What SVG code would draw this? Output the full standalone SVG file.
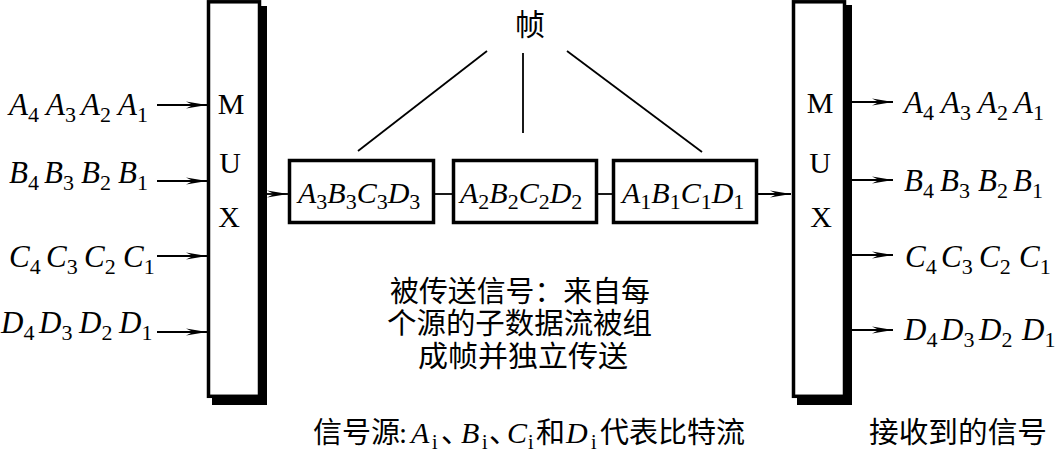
<svg xmlns="http://www.w3.org/2000/svg" width="1055" height="452" viewBox="0 0 1055 452">
<defs>
<style>
.it{font-family:"Liberation Serif","Times New Roman",serif;font-style:italic;fill:#000}
.lb{font-size:31px}
.bt{font-size:30px}
.s{font-size:22px;font-style:normal}
.rm{font-family:"Liberation Serif","Times New Roman",serif;font-size:30px;fill:#000}
.cj{font-family:"Noto Sans CJK SC",sans-serif;font-size:29px;fill:#000}
.cap{font-family:"Liberation Serif","Noto Sans CJK SC",serif;font-size:29px;fill:#000}
.ci{font-style:italic;font-size:30px}
.cs{font-size:20px;font-style:normal}
.box{fill:#fff;stroke:#000;stroke-width:3.5}
.shadow{fill:#000}
.ln{stroke:#000;stroke-width:1.8;fill:none}
.arr{stroke:#000;stroke-width:1.8;fill:none;marker-end:url(#ah)}
</style>
<marker id="ah" viewBox="-22 -5 23 10" markerWidth="23" markerHeight="10" refX="0" refY="0" orient="auto" markerUnits="userSpaceOnUse">
<path d="M0,0 L-21,-3.6 L-14,0 L-21,3.6 Z" fill="#000"/>
</marker>
</defs>
<rect width="1055" height="452" fill="#fff"/>

<g id="connectors">
<line class="arr" x1="157" y1="105" x2="207" y2="105"/>
<line class="arr" x1="157" y1="181" x2="207" y2="181"/>
<line class="arr" x1="157" y1="256" x2="207" y2="256"/>
<line class="arr" x1="157" y1="332" x2="207" y2="332"/>
<line class="arr" x1="267" y1="194" x2="288" y2="194"/>
<line class="ln" x1="435" y1="194" x2="453" y2="194"/>
<line class="ln" x1="597" y1="194" x2="613" y2="194"/>
<line class="arr" x1="758" y1="194" x2="791" y2="194"/>
<line class="arr" x1="852" y1="102" x2="893" y2="102"/>
<line class="arr" x1="852" y1="180" x2="893" y2="180"/>
<line class="arr" x1="852" y1="255" x2="893" y2="255"/>
<line class="arr" x1="852" y1="330" x2="893" y2="330"/>
<line class="ln" x1="487" y1="51" x2="358" y2="151"/>
<line class="ln" x1="523" y1="53" x2="523" y2="133"/>
<line class="ln" x1="567" y1="51" x2="702" y2="152"/>
</g>

<g id="inputs">
<text class="it lb" y="115"><tspan x="9">A</tspan><tspan class="s" dy="7">4</tspan><tspan x="46" dy="-7">A</tspan><tspan class="s" dy="7">3</tspan><tspan x="81" dy="-7">A</tspan><tspan class="s" dy="7">2</tspan><tspan x="118" dy="-7">A</tspan><tspan class="s" dy="7">1</tspan></text>
<text class="it lb" y="183"><tspan x="9">B</tspan><tspan class="s" dy="7">4</tspan><tspan x="44" dy="-7">B</tspan><tspan class="s" dy="7">3</tspan><tspan x="81" dy="-7">B</tspan><tspan class="s" dy="7">2</tspan><tspan x="118" dy="-7">B</tspan><tspan class="s" dy="7">1</tspan></text>
<text class="it lb" y="267"><tspan x="9">C</tspan><tspan class="s" dy="7">4</tspan><tspan x="46" dy="-7">C</tspan><tspan class="s" dy="7">3</tspan><tspan x="84" dy="-7">C</tspan><tspan class="s" dy="7">2</tspan><tspan x="123" dy="-7">C</tspan><tspan class="s" dy="7">1</tspan></text>
<text class="it lb" y="333"><tspan x="1">D</tspan><tspan class="s" dy="7">4</tspan><tspan x="39" dy="-7">D</tspan><tspan class="s" dy="7">3</tspan><tspan x="79" dy="-7">D</tspan><tspan class="s" dy="7">2</tspan><tspan x="119" dy="-7">D</tspan><tspan class="s" dy="7">1</tspan></text>
</g>

<g id="mux-left">
<rect class="shadow" x="212" y="6" width="55" height="399"/>
<rect class="box" x="208.5" y="1.8" width="51" height="394.5"/>
<text class="rm" x="231" y="114" text-anchor="middle">M</text>
<text class="rm" x="230" y="173" text-anchor="middle">U</text>
<text class="rm" x="229" y="227" text-anchor="middle">X</text>
</g>

<g id="frame-label">
<text class="cj" x="530" y="35" text-anchor="middle" style="font-size:30px">帧</text>
</g>

<g id="frame1">
<rect class="box" x="289.5" y="160.5" width="144" height="62"/>
<text class="it bt" x="298" y="203">A<tspan class="s" dy="6">3</tspan><tspan dy="-6">B</tspan><tspan class="s" dy="6">3</tspan><tspan dy="-6">C</tspan><tspan class="s" dy="6">3</tspan><tspan dy="-6">D</tspan><tspan class="s" dy="6">3</tspan></text>
</g>
<g id="frame2">
<rect class="box" x="453.5" y="160.5" width="143" height="62"/>
<text class="it bt" x="460" y="203">A<tspan class="s" dy="6">2</tspan><tspan dy="-6">B</tspan><tspan class="s" dy="6">2</tspan><tspan dy="-6">C</tspan><tspan class="s" dy="6">2</tspan><tspan dy="-6">D</tspan><tspan class="s" dy="6">2</tspan></text>
</g>
<g id="frame3">
<rect class="box" x="613.5" y="160.5" width="143" height="62"/>
<text class="it bt" x="622" y="203">A<tspan class="s" dy="6">1</tspan><tspan dy="-6">B</tspan><tspan class="s" dy="6">1</tspan><tspan dy="-6">C</tspan><tspan class="s" dy="6">1</tspan><tspan dy="-6">D</tspan><tspan class="s" dy="6">1</tspan></text>
</g>

<g id="mux-right">
<rect class="shadow" x="797" y="5" width="55" height="400"/>
<rect class="box" x="793.5" y="1.8" width="51" height="394.5"/>
<text class="rm" x="820" y="113" text-anchor="middle">M</text>
<text class="rm" x="820" y="173" text-anchor="middle">U</text>
<text class="rm" x="821" y="227" text-anchor="middle">X</text>
</g>

<g id="outputs">
<text class="it lb" y="113"><tspan x="904">A</tspan><tspan class="s" dy="7">4</tspan><tspan x="941" dy="-7">A</tspan><tspan class="s" dy="7">3</tspan><tspan x="978" dy="-7">A</tspan><tspan class="s" dy="7">2</tspan><tspan x="1014" dy="-7">A</tspan><tspan class="s" dy="7">1</tspan></text>
<text class="it lb" y="191"><tspan x="904">B</tspan><tspan class="s" dy="7">4</tspan><tspan x="940" dy="-7">B</tspan><tspan class="s" dy="7">3</tspan><tspan x="978" dy="-7">B</tspan><tspan class="s" dy="7">2</tspan><tspan x="1013" dy="-7">B</tspan><tspan class="s" dy="7">1</tspan></text>
<text class="it lb" y="267"><tspan x="905">C</tspan><tspan class="s" dy="7">4</tspan><tspan x="941" dy="-7">C</tspan><tspan class="s" dy="7">3</tspan><tspan x="979" dy="-7">C</tspan><tspan class="s" dy="7">2</tspan><tspan x="1019" dy="-7">C</tspan><tspan class="s" dy="7">1</tspan></text>
<text class="it lb" y="340"><tspan x="904">D</tspan><tspan class="s" dy="7">4</tspan><tspan x="941" dy="-7">D</tspan><tspan class="s" dy="7">3</tspan><tspan x="979" dy="-7">D</tspan><tspan class="s" dy="7">2</tspan><tspan x="1022" dy="-7">D</tspan><tspan class="s" dy="7">1</tspan></text>
</g>

<g id="transmitted-note">
<text class="cj" x="520" y="302" text-anchor="middle" textLength="260" lengthAdjust="spacingAndGlyphs">被传送信号：来自每</text>
<text class="cj" x="519.5" y="334" text-anchor="middle" textLength="265" lengthAdjust="spacingAndGlyphs">个源的子数据流被组</text>
<text class="cj" x="523" y="367" text-anchor="middle" textLength="210" lengthAdjust="spacingAndGlyphs">成帧并独立传送</text>
</g>

<g id="source-caption">
<text class="cap" y="443"><tspan x="313">信号源</tspan><tspan x="399">:</tspan><tspan x="411" class="ci">A</tspan><tspan class="cs" x="432" dy="6">i</tspan><tspan x="441" dy="-6">、</tspan><tspan x="461" class="ci">B</tspan><tspan class="cs" x="482" dy="6">i</tspan><tspan x="489" dy="-6">、</tspan><tspan x="507" class="ci">C</tspan><tspan class="cs" x="528" dy="6">i</tspan><tspan x="536" dy="-6">和</tspan><tspan x="566" class="ci">D</tspan><tspan class="cs" x="591" dy="6">i</tspan><tspan x="600" dy="-6">代表比特流</tspan></text>
</g>

<g id="received-caption">
<text class="cap" x="869" y="443" textLength="178" lengthAdjust="spacingAndGlyphs">接收到的信号</text>
</g>
</svg>
